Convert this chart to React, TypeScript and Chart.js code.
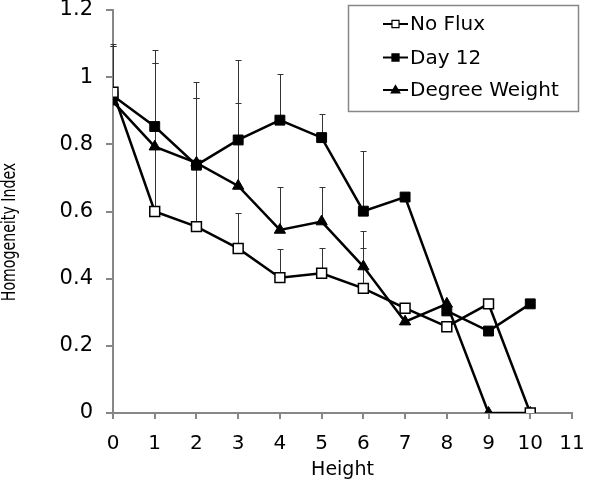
import React, { useEffect, useRef } from 'react';
import { Chart, registerables } from 'chart.js';

Chart.register(...registerables);

const heights = [0, 1, 2, 3, 4, 5, 6, 7, 8, 9, 10];
const noFlux = [0.955, 0.6, 0.555, 0.49, 0.403, 0.416, 0.371, 0.312, 0.257, 0.325, 0];
const day12 = [0.945, 0.853, 0.738, 0.813, 0.872, 0.82, 0.601, 0.643, 0.304, 0.244, 0.325];
const degreeWeight = [0.927, 0.793, 0.745, 0.676, 0.545, 0.57, 0.436, 0.272, 0.325, 0, 0];
const noFluxErr = [0.138, 0.443, 0.382, 0.106, 0.085, 0.074, 0.119, 0, 0, 0, 0];
const day12Err = [0.155, 0.227, 0.247, 0.238, 0.137, 0.069, 0.179, 0, 0, 0, 0];
const degreeWeightErr = [0.166, 0.25, 0.192, 0.246, 0.129, 0.102, 0.107, 0, 0, 0, 0];
const seriesLabels = ['No Flux', 'Day 12', 'Degree Weight'];
const xTickLabels = ['0', '1', '2', '3', '4', '5', '6', '7', '8', '9', '10', '11'];
const yTickLabels = ['0', '0.2', '0.4', '0.6', '0.8', '1', '1.2'];
const xTitle = 'Height';
const yTitle = 'Homogeneity Index';

const FONT = 'DejaVu Sans';
const AXIS_GRAY = '#878787';

const errorBarPlugin = {
  id: 'errorBars',
  beforeDatasetsDraw(chart: any) {
    const errs = [noFluxErr, day12Err, degreeWeightErr];
    const xs = chart.scales.x;
    const ys = chart.scales.y;
    const ctx = chart.ctx;
    ctx.save();
    ctx.strokeStyle = '#333';
    ctx.lineWidth = 1;
    chart.data.datasets.forEach((ds: any, i: number) => {
      ds.data.forEach((p: any, j: number) => {
        const e = errs[i][j];
        if (!e) return;
        const x = Math.round(xs.getPixelForValue(p.x)) + 0.5;
        const y0 = ys.getPixelForValue(p.y);
        const y1 = Math.round(ys.getPixelForValue(p.y + e)) + 0.5;
        ctx.beginPath();
        ctx.moveTo(x, y0);
        ctx.lineTo(x, y1);
        ctx.moveTo(x - 3, y1);
        ctx.lineTo(x + 3, y1);
        ctx.stroke();
      });
    });
    ctx.restore();
  },
};

function drawMarker(ctx: CanvasRenderingContext2D, style: string, x: number, y: number, r: number, fill: string, stroke: string, bw: number) {
  ctx.beginPath();
  if (style === 'triangle') {
    const h = r * 1.5;
    ctx.moveTo(x, y - h * 0.6);
    ctx.lineTo(x + r * 0.87, y + h * 0.4);
    ctx.lineTo(x - r * 0.87, y + h * 0.4);
    ctx.closePath();
  } else {
    const s = r * Math.SQRT1_2;
    ctx.rect(x - s, y - s, 2 * s, 2 * s);
  }
  ctx.fillStyle = fill;
  ctx.fill();
  ctx.lineWidth = bw;
  ctx.strokeStyle = stroke;
  ctx.stroke();
}

const legendPlugin = {
  id: 'boxLegend',
  afterDraw(chart: any) {
    const ctx = chart.ctx as CanvasRenderingContext2D;
    ctx.save();
    // y-axis title
    ctx.save();
    ctx.translate(10, 232);
    ctx.rotate(-Math.PI / 2);
    ctx.scale(0.745, 1);
    ctx.fillStyle = '#000';
    ctx.font = `19px "${FONT}"`;
    ctx.textAlign = 'center';
    ctx.textBaseline = 'middle';
    ctx.fillText(yTitle, 0, 0);
    ctx.restore();
    // legend box
    const bx = 348.5, by = 5.5, bw = 230, bh = 106;
    ctx.fillStyle = '#fff';
    ctx.fillRect(bx, by, bw, bh);
    ctx.strokeStyle = AXIS_GRAY;
    ctx.lineWidth = 1.5;
    ctx.strokeRect(bx, by, bw, bh);
    const rowY = [24, 57.5, 90];
    chart.data.datasets.forEach((ds: any, i: number) => {
      const y = rowY[i];
      ctx.strokeStyle = '#000';
      ctx.lineWidth = 2;
      ctx.beginPath();
      ctx.moveTo(383, y);
      ctx.lineTo(408, y);
      ctx.stroke();
      drawMarker(ctx, ds.pointStyle, 395.5, y, 5, ds.pointBackgroundColor, '#000', 1.2);
      ctx.fillStyle = '#000';
      ctx.font = `20px "${FONT}"`;
      ctx.textBaseline = 'middle';
      ctx.textAlign = 'left';
      ctx.fillText(ds.label, 410, y + 1);
    });
    ctx.restore();
  },
};

export default function App() {
  const ref = useRef<HTMLCanvasElement | null>(null);
  useEffect(() => {
    document.body.style.margin = '0';
    const mk = (vals: number[]) => heights.map((h, i) => ({ x: h, y: vals[i] }));
    const chart = new Chart(ref.current as HTMLCanvasElement, {
      type: 'line',
      data: {
        datasets: [
          {
            label: seriesLabels[0],
            data: mk(noFlux),
            borderColor: '#000',
            borderWidth: 2.5,
            pointStyle: 'rect',
            pointRadius: 7,
            pointBackgroundColor: '#fff',
            pointBorderColor: '#000',
            pointBorderWidth: 1.5,
            tension: 0,
          },
          {
            label: seriesLabels[1],
            data: mk(day12),
            borderColor: '#000',
            borderWidth: 2.5,
            pointStyle: 'rect',
            pointRadius: 7,
            pointBackgroundColor: '#000',
            pointBorderColor: '#000',
            pointBorderWidth: 1,
            tension: 0,
          },
          {
            label: seriesLabels[2],
            data: mk(degreeWeight),
            borderColor: '#000',
            borderWidth: 2.5,
            pointStyle: 'triangle',
            pointRadius: 6.5,
            pointBackgroundColor: '#000',
            pointBorderColor: '#000',
            pointBorderWidth: 1,
            tension: 0,
          },
        ],
      },
      options: {
        responsive: false,
        animation: false,
        events: [],
        layout: { padding: { top: 10, right: 28, left: 0, bottom: 0 } },
        plugins: {
          legend: { display: false },
          tooltip: { enabled: false },
        },
        scales: {
          x: {
            type: 'linear',
            min: 0,
            max: 11,
            afterFit: (s: any) => {
              s.height = 71;
              s.paddingLeft = 0;
              s.paddingRight = 0;
            },
            ticks: {
              stepSize: 1,
              autoSkip: false,
              maxRotation: 0,
              padding: 13,
              color: '#000',
              font: { family: FONT, size: 20 },
              callback: (_v: any, i: number) => xTickLabels[i],
            },
            grid: { drawOnChartArea: false, drawTicks: true, tickLength: 6, color: AXIS_GRAY, lineWidth: 2 },
            border: { color: AXIS_GRAY, width: 2 },
            title: {
              display: true,
              text: xTitle,
              color: '#000',
              font: { family: FONT, size: 19 },
              padding: { top: 0, bottom: 3 },
            },
          },
          y: {
            type: 'linear',
            min: 0,
            max: 1.2,
            afterFit: (s: any) => {
              s.width = 113;
              s.paddingTop = 0;
              s.paddingBottom = 0;
            },
            ticks: {
              stepSize: 0.2,
              padding: 13,
              color: '#000',
              font: { family: FONT, size: 21 },
              callback: (_v: any, i: number) => yTickLabels[i],
            },
            grid: { drawOnChartArea: false, drawTicks: true, tickLength: 7, color: AXIS_GRAY, lineWidth: 2 },
            border: { color: AXIS_GRAY, width: 2 },
          },
        },
      },
      plugins: [errorBarPlugin, legendPlugin],
    } as any);
    return () => chart.destroy();
  }, []);
  return (
    <div style={{ width: 600, height: 484 }}>
      <canvas ref={ref} width={600} height={484} style={{ display: 'block' }} />
    </div>
  );
}
